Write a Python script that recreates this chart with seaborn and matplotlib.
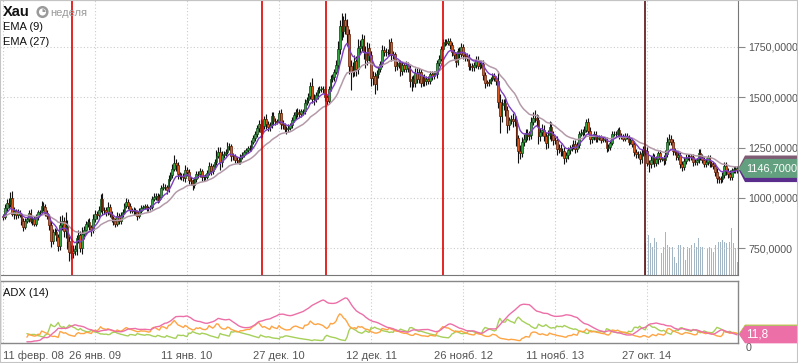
import numpy as np
import pandas as pd
import matplotlib
matplotlib.use("Agg")
import matplotlib.pyplot as plt
from matplotlib.patches import Polygon, Circle, Wedge, Rectangle
from matplotlib.ticker import FuncFormatter
import seaborn as sns

# XAU weekly closes, week of 11 Feb 2008 .. week of 5 Oct 2015
close_2008 = [906, 948, 975, 972, 1000, 920, 935, 913, 925, 915,
              887, 855, 885, 895, 925, 885, 897, 872, 903, 928,
              932, 962, 955, 927, 912, 865, 785, 830, 833, 805,
              760, 865, 885, 835, 860, 785, 730, 725, 735, 745,
              800, 815, 752, 823, 838, 872]
close_2009 = [878, 855, 838, 895, 920, 913, 942, 995, 942, 940,
              930, 953, 922, 898, 883, 870, 912, 885, 915, 930,
              958, 978, 962, 938, 935, 940, 930, 912, 937, 952,
              955, 958, 948, 952, 955, 995, 1006, 1010, 992, 1003,
              1050, 1052, 1056, 1040, 1095, 1115, 1146, 1175, 1162, 1118,
              1110, 1104]
close_2010 = [1097, 1138, 1131, 1090, 1083, 1065, 1093, 1118, 1117, 1133,
              1102, 1105, 1105, 1125, 1160, 1135, 1157, 1180, 1210, 1230,
              1177, 1215, 1220, 1229, 1256, 1256, 1207, 1210, 1190, 1188,
              1180, 1204, 1215, 1227, 1236, 1248, 1246, 1276, 1297, 1317,
              1346, 1369, 1326, 1358, 1393, 1366, 1352, 1362, 1406, 1384,
              1378, 1380, 1421]
close_2011 = [1369, 1360, 1343, 1340, 1349, 1360, 1388, 1410, 1429, 1420,
              1418, 1430, 1430, 1474, 1486, 1504, 1556, 1491, 1493, 1510,
              1536, 1542, 1542, 1539, 1500, 1483, 1542, 1591, 1601, 1628,
              1663, 1742, 1852, 1828, 1884, 1856, 1813, 1657, 1624, 1636,
              1682, 1642, 1745, 1754, 1788, 1725, 1685, 1746, 1712, 1598,
              1606, 1566]
close_2012 = [1617, 1640, 1664, 1737, 1725, 1725, 1724, 1776, 1710, 1713,
              1656, 1662, 1669, 1632, 1660, 1642, 1663, 1645, 1580, 1592,
              1573, 1622, 1591, 1627, 1572, 1598, 1579, 1592, 1581, 1618,
              1604, 1620, 1616, 1671, 1692, 1739, 1770, 1773, 1772, 1781,
              1758, 1724, 1711, 1676, 1730, 1714, 1752, 1712, 1703, 1696,
              1658, 1656]
close_2013 = [1649, 1662, 1687, 1658, 1667, 1667, 1609, 1573, 1572, 1578,
              1592, 1606, 1595, 1580, 1476, 1405, 1462, 1470, 1437, 1364,
              1386, 1392, 1383, 1387, 1296, 1234, 1223, 1277, 1294, 1322,
              1310, 1312, 1377, 1396, 1395, 1386, 1308, 1326, 1337, 1310,
              1272, 1315, 1352, 1315, 1287, 1287, 1244, 1250, 1231, 1235,
              1198, 1213]
close_2014 = [1237, 1248, 1254, 1270, 1244, 1262, 1318, 1323, 1326, 1339,
              1379, 1334, 1294, 1303, 1318, 1293, 1300, 1302, 1288, 1293,
              1292, 1250, 1252, 1274, 1316, 1316, 1320, 1337, 1310, 1307,
              1294, 1310, 1305, 1280, 1287, 1268, 1230, 1216, 1218, 1192,
              1222, 1238, 1231, 1171, 1169, 1186, 1201, 1175, 1191, 1222,
              1195, 1195]
close_2015 = [1186, 1217, 1277, 1294, 1279, 1234, 1227, 1204, 1213, 1167,
              1153, 1181, 1199, 1201, 1205, 1204, 1178, 1178, 1188, 1225,
              1204, 1189, 1168, 1180, 1201, 1173, 1168, 1158, 1131, 1097,
              1095, 1094, 1113, 1160, 1134, 1121, 1104, 1138, 1145, 1137,
              1146.7]
first_open = 910

# shadows above / below the candle body, in dollars
wick_up = [12, 20, 18, 25, 30, 33, 20, 12, 18, 15, 10, 14, 16, 12, 15, 20, 12, 15, 18, 14,
           10, 22, 18, 15, 12, 10, 20, 15, 18, 12, 15, 45, 30, 20, 70, 30, 25, 35, 30, 20,
           15, 25, 20, 30, 22, 15,
           15, 20, 12, 25, 18, 14, 20, 22, 30, 12, 15, 25, 18, 14, 10, 16, 20, 12, 14, 16,
           18, 22, 15, 12, 10, 14, 12, 10, 14, 12, 10, 12, 10, 8, 12, 14, 20, 12, 15, 18,
           14, 20, 12, 10, 18, 15, 22, 36, 20, 15, 12, 14,
           20, 25, 18, 12, 14, 10, 12, 16, 14, 18, 12, 10, 14, 12, 20, 14, 12, 15, 30, 22,
           25, 18, 15, 14, 20, 18, 12, 14, 10, 12, 14, 16, 12, 10, 12, 10, 14, 12, 16, 14,
           18, 20, 22, 30, 16, 22, 18, 14, 22, 20, 12, 10, 14,
           20, 18, 14, 12, 16, 12, 14, 16, 12, 18, 20, 14, 12, 16, 14, 18, 20, 40, 25, 18,
           16, 14, 15, 12, 16, 18, 12, 20, 16, 14, 20, 40, 30, 65, 20, 35, 35, 25, 30, 40,
           30, 25, 45, 30, 25, 20, 30, 28, 22, 20, 25, 18,
           20, 16, 14, 22, 18, 20, 16, 14, 20, 18, 14, 16, 12, 18, 14, 12, 16, 14, 18, 12,
           20, 25, 22, 18, 16, 14, 20, 16, 15, 12, 14, 12, 10, 16, 18, 14, 20, 18, 15, 12,
           16, 18, 14, 12, 16, 20, 18, 14, 12, 16, 18, 14,
           16, 14, 18, 20, 12, 14, 16, 18, 14, 12, 10, 14, 16, 12, 50, 40, 30, 20, 25, 20,
           18, 22, 30, 25, 20, 18, 30, 25, 22, 20, 18, 20, 25, 30, 40, 20, 25, 22, 30, 25,
           20, 22, 30, 25, 18, 16, 20, 18, 16, 14, 18, 16,
           16, 14, 12, 18, 20, 14, 16, 20, 18, 16, 14, 20, 18, 12, 14, 16, 12, 10, 12, 10,
           12, 10, 14, 12, 16, 18, 14, 12, 16, 12, 10, 14, 12, 10, 12, 10, 14, 12, 16, 14,
           20, 18, 20, 22, 16, 20, 24, 18, 16, 12, 14, 10,
           18, 20, 24, 22, 20, 16, 14, 12, 18, 16, 14, 20, 18, 16, 14, 12, 16, 14, 12, 20,
           16, 14, 12, 16, 14, 12, 10, 12, 14, 16, 12, 14, 16, 20, 18, 14, 16, 12, 14, 16,
           10]
wick_dn = [15, 10, 12, 20, 18, 10, 25, 18, 14, 12, 20, 18, 10, 12, 15, 12, 18, 12, 10, 12,
           15, 10, 20, 18, 15, 25, 30, 15, 12, 20, 25, 20, 25, 30, 35, 40, 45, 30, 25, 20,
           30, 25, 20, 30, 25, 15,
           18, 15, 25, 12, 14, 16, 10, 12, 25, 20, 18, 14, 16, 20, 18, 14, 12, 16, 14, 10,
           12, 10, 16, 14, 12, 18, 14, 20, 12, 10, 12, 10, 12, 14, 10, 12, 10, 14, 16, 12,
           10, 12, 14, 20, 10, 12, 14, 10, 30, 25, 18, 14,
           14, 16, 20, 22, 18, 25, 14, 12, 16, 14, 18, 16, 14, 12, 12, 20, 14, 12, 16, 14,
           40, 25, 18, 14, 12, 16, 25, 18, 16, 14, 12, 10, 12, 14, 10, 12, 14, 12, 10, 14,
           12, 16, 30, 22, 14, 25, 20, 18, 16, 20, 14, 12, 10,
           25, 18, 16, 20, 14, 12, 14, 12, 16, 20, 18, 14, 16, 12, 14, 12, 14, 20, 30, 18,
           16, 14, 16, 18, 16, 20, 14, 12, 16, 18, 14, 20, 25, 45, 30, 40, 60, 40, 90, 25,
           30, 35, 25, 30, 25, 35, 40, 25, 30, 40, 35, 50,
           30, 20, 16, 14, 20, 18, 16, 18, 30, 22, 25, 18, 16, 24, 20, 18, 16, 20, 30, 50,
           20, 20, 22, 18, 20, 16, 22, 18, 16, 14, 16, 14, 12, 18, 14, 12, 10, 16, 14, 12,
           18, 20, 22, 24, 16, 18, 14, 20, 22, 18, 24, 20,
           20, 18, 14, 16, 18, 20, 22, 25, 18, 16, 14, 12, 16, 18, 30, 80, 30, 25, 30, 40,
           25, 20, 30, 25, 40, 60, 30, 20, 18, 16, 20, 22, 18, 16, 20, 30, 40, 25, 20, 25,
           30, 25, 20, 30, 25, 20, 30, 20, 25, 22, 30, 20,
           20, 18, 14, 12, 20, 16, 14, 12, 16, 14, 12, 16, 25, 20, 14, 16, 14, 12, 14, 12,
           14, 20, 18, 14, 12, 10, 12, 14, 16, 14, 12, 10, 14, 16, 12, 14, 20, 18, 16, 22,
           18, 14, 16, 12, 38, 18, 16, 20, 18, 24, 16, 14,
           20, 18, 14, 16, 18, 20, 16, 18, 14, 20, 18, 16, 14, 12, 16, 14, 18, 16, 14, 16,
           18, 16, 14, 12, 16, 18, 14, 16, 20, 24, 20, 18, 16, 14, 20, 22, 16, 14, 12, 14,
           12]

# volume of the last weeks (shown from the marked week on)
volume = [95, 100, 120, 95, 85, 110, 100, 105, 80, 65,
          85, 130, 90, 85, 90, 85, 55, 35, 90, 90,
          90, 85, 45, 85, 80, 90, 85, 95, 85, 110,
          85, 85, 85, 85, 80, 85, 80, 70, 90, 85,
          100, 100, 105, 100, 95, 95, 100, 140, 95, 80,
          40]
vol_start = 349

date_ticks = [0, 50, 100, 150, 200, 250, 300, 350]
date_labels = ["11 февр. 08", "26 янв. 09", "11 янв. 10", "27 дек. 10",
               "12 дек. 11", "26 нояб. 12", "11 нояб. 13", "27 окт. 14"]
price_ticks = [750, 1000, 1250, 1500, 1750]
red_marks = [37.5, 140.8, 175.5, 239.1]
dark_mark = 348.9
adx_last = 11.8
period = 14

closes = (close_2008 + close_2009 + close_2010 + close_2011 + close_2012
          + close_2013 + close_2014 + close_2015)
df = pd.DataFrame({"close": closes})
df["open"] = df["close"].shift(1).fillna(first_open)
df["high"] = df[["open", "close"]].max(axis=1) + np.array(wick_up)
df["low"] = df[["open", "close"]].min(axis=1) - np.array(wick_dn)
df["w"] = np.arange(len(df))

df["ema9"] = df["close"].ewm(span=9, adjust=False).mean()
df["ema27"] = df["close"].ewm(span=27, adjust=False).mean()

# ADX(14), Wilder smoothing; DX only counts once the DI lines are ready
pc = df["close"].shift(1)
tr = pd.concat([df["high"] - df["low"], (df["high"] - pc).abs(), (df["low"] - pc).abs()], axis=1).max(axis=1)
upm = df["high"].diff()
dnm = -df["low"].diff()
pdm = pd.Series(np.where((upm > dnm) & (upm > 0), upm, 0.0))
mdm = pd.Series(np.where((dnm > upm) & (dnm > 0), dnm, 0.0))
a = 1 / period
atr = tr.ewm(alpha=a, adjust=False).mean()
df["pdi"] = 100 * pdm.ewm(alpha=a, adjust=False).mean() / atr
df["mdi"] = 100 * mdm.ewm(alpha=a, adjust=False).mean() / atr
dx = (100 * (df["pdi"] - df["mdi"]).abs() / (df["pdi"] + df["mdi"])).fillna(0)
dx.iloc[:period - 1] = 0
df["adx"] = dx.ewm(alpha=a, adjust=False).mean()

sns.set_style("white")
plt.rcParams["font.family"] = ["Liberation Sans", "DejaVu Sans"]

W, H = 798, 363
fig = plt.figure(figsize=(W / 100, H / 100), dpi=100)
fig.patch.set_facecolor("white")


def box(x0, y0, x1, y1):
    return [x0 / W, 1 - y1 / H, (x1 - x0) / W, (y1 - y0) / H]


ax = fig.add_axes(box(0, 0, 738, 275))
axv = ax.twinx()
ax_adx = fig.add_axes(box(0, 281, 738, 343))

xlim = (-3 / 1.84, 399 + 0.8 / 1.84)
grid_kw = dict(color="#cccccc", lw=0.8, linestyle=(0, (1, 2)))

# candles
up = df["close"] >= df["open"]
ax.vlines(df["w"], df["low"], df["high"], color="#111111", lw=0.8, zorder=2)
body = (df["close"] - df["open"]).abs().clip(lower=2)
bottom = df[["open", "close"]].min(axis=1)
ax.bar(df["w"][up], body[up], bottom=bottom[up], width=0.9,
       color="#35a541", edgecolor="#0e4414", lw=0.5, zorder=3)
ax.bar(df["w"][~up], body[~up], bottom=bottom[~up], width=0.9,
       color="#dc5a20", edgecolor="#5e1c06", lw=0.5, zorder=3)

sns.lineplot(data=df, x="w", y="ema27", ax=ax, color="#b49aa9", lw=1.1, zorder=4)
sns.lineplot(data=df, x="w", y="ema9", ax=ax, color="#7d3fc4", lw=1.0, zorder=4)

for m in red_marks:
    ax.axvline(m, color="#e00000", lw=1.2, zorder=5)
ax.axvline(dark_mark, color="#5a1010", lw=1.2, zorder=5)

vw = np.arange(vol_start, vol_start + len(volume))
axv.bar(vw, volume, width=0.45, color="#a3b6c6", lw=0)
axv.set_ylim(0, 825)
axv.axis("off")
axv.set_zorder(ax.get_zorder() - 1)
ax.patch.set_visible(False)

ax.set_xlim(*xlim)
ax.set_ylim(1750 - 228 * 250 / 50.3, 1750 + 47 * 250 / 50.3)
ax.set_xticks(date_ticks)
ax.set_yticks(price_ticks)
ax.grid(True, **grid_kw)
ax.yaxis.tick_right()
ax.yaxis.set_major_formatter(FuncFormatter(lambda v, p: f"{v:.4f}".replace(".", ",")))
ax.tick_params(axis="x", length=0, labelbottom=False)
ax.tick_params(axis="y", direction="out", length=5, width=0.8, color="#888888",
               pad=2.5, labelsize=7.7, labelcolor="#555555")
ax.set_xlabel("")
ax.set_ylabel("")
ax.spines["left"].set_visible(False)
ax.spines["top"].set_color("#bbbbbb")
ax.spines["right"].set_color("#777777")
ax.spines["bottom"].set_color("#777777")

# ADX panel
view = df.iloc[period - 1:]
sns.lineplot(data=view, x="w", y="mdi", ax=ax_adx, color="#a6d05a", lw=1.0)
sns.lineplot(data=view, x="w", y="pdi", ax=ax_adx, color="#ffa443", lw=1.0)
sns.lineplot(data=view, x="w", y="adx", ax=ax_adx, color="#ec6fa8", lw=1.0)
ax_adx.set_xlim(*xlim)
ax_adx.set_ylim(0, 87)
ax_adx.set_xticks(date_ticks)
ax_adx.set_xticklabels(date_labels)
ax_adx.grid(True, axis="x", **grid_kw)
ax_adx.set_yticks([])
ax_adx.text(1.0 + 8 / 738, 0, "0", transform=ax_adx.get_yaxis_transform(), fontsize=7.7,
            color="#555555", ha="left", va="top")
ax_adx.tick_params(axis="x", direction="out", length=2.5, color="#888888",
                   pad=3, labelsize=8, labelcolor="#555555")
ax_adx.set_xlabel("")
ax_adx.set_ylabel("")
for s in ax_adx.spines.values():
    s.set_color("#888888")
    s.set_linewidth(1)
lbl0 = ax_adx.get_xticklabels()[0]
lbl0.set_horizontalalignment("left")
lbl0.set_x(xlim[0] + 0.5)


def to_fig(pts):
    return fig.transFigure.inverted().transform(pts)


def tag(axis, value, h, color, label=None, fs=8, z=6):
    yd = axis.transData.transform((0, value))[1]
    xr = axis.transAxes.transform((1, 0))[0]
    pts = [(xr + 1, yd), (xr + 7, yd + h / 2), (W, yd + h / 2), (W, yd - h / 2), (xr + 7, yd - h / 2)]
    fig.add_artist(Polygon(to_fig(pts), closed=True, transform=fig.transFigure,
                           facecolor=color, edgecolor="none", zorder=z))
    if label:
        tx, ty = to_fig([(xr + 8, yd)])[0]
        fig.text(tx, ty, label, color="white", fontsize=fs, ha="left", va="center", zorder=z + 1)


last = df.iloc[-1]
tag(ax, last["ema27"], 23, "#7e5c74", z=6)
tag(ax, last["ema9"], 23, "#5a2d8c", z=7)
tag(ax, last["close"], 19, "#63a07f", f"{last['close']:.4f}".replace(".", ","), fs=7.9, z=8)
tag(ax_adx, last["pdi"], 17.5, "#ffa443", z=6)
tag(ax_adx, last["mdi"], 17.5, "#a6d05a", z=7)
tag(ax_adx, adx_last, 17.5, "#ec6fa8", f"{adx_last:.1f}".replace(".", ","), fs=8.5, z=8)


def ftext(x, y, s, **kw):
    fx, fy = to_fig([(x, H - y)])[0]
    fig.text(fx, fy, s, va="baseline", ha="left", **kw)


ftext(3, 16.5, "Xau", fontsize=10.5, weight="bold", color="#111111")
ftext(50, 16, "неделя", fontsize=8, color="#9a9a9a")
ftext(3, 30.5, "EMA (9)", fontsize=8, color="#111111")
ftext(3, 45, "EMA (27)", fontsize=8, color="#111111")
ftext(3, 296.5, "ADX (14)", fontsize=8, color="#111111")

# clock icon next to the title (inches from lower left)
ck = (42.5 / 100, (H - 12) / 100)
fig.add_artist(Circle(ck, 0.048, transform=fig.dpi_scale_trans, facecolor="white",
                      edgecolor="#9a9a9a", lw=1.8, zorder=9))
fig.add_artist(Wedge(ck, 0.03, 0, 90, transform=fig.dpi_scale_trans,
                     facecolor="#9a9a9a", lw=0, zorder=9))

fig.add_artist(Rectangle((0, 0), 1, 1, transform=fig.transFigure, fill=False,
                         edgecolor="#c4c4c4", lw=1.5, zorder=10))

fig.savefig("out.png", dpi=100)
